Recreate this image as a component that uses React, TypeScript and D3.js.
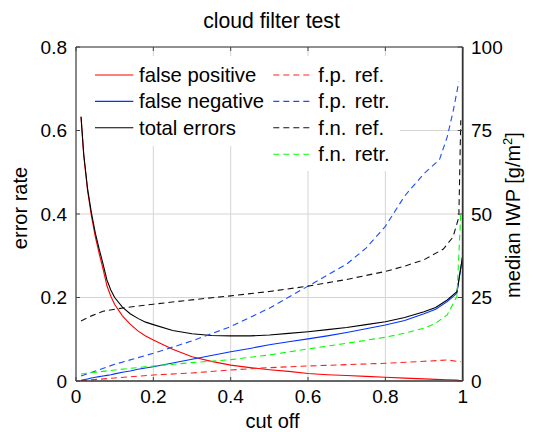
import React from "react";
import * as d3 from "d3";

const W = 533;
const H = 432;

// cut off values for the solid error-rate curves
const cutoff = [0.013, 0.02, 0.03, 0.04, 0.05, 0.06, 0.07, 0.08, 0.09, 0.1, 0.12, 0.14, 0.16, 0.18, 0.2, 0.25, 0.3, 0.35, 0.4, 0.45, 0.5, 0.55, 0.6, 0.65, 0.7, 0.75, 0.8, 0.85, 0.9, 0.93, 0.96, 0.985, 1.0];
const falsePositive = [0.633, 0.54, 0.455, 0.395, 0.345, 0.305, 0.268, 0.228, 0.203, 0.183, 0.156, 0.136, 0.12, 0.108, 0.098, 0.076, 0.058, 0.047, 0.038, 0.032, 0.027, 0.023, 0.018, 0.015, 0.013, 0.011, 0.009, 0.007, 0.005, 0.004, 0.003, 0.002, 0.0];
const falseNegative = [0.0015, 0.003, 0.005, 0.007, 0.009, 0.0105, 0.012, 0.0135, 0.015, 0.017, 0.021, 0.024, 0.028, 0.031, 0.034, 0.043, 0.052, 0.061, 0.07, 0.078, 0.087, 0.094, 0.101, 0.108, 0.116, 0.125, 0.134, 0.145, 0.161, 0.172, 0.19, 0.21, 0.3];
const totalErrors = [0.633, 0.543, 0.46, 0.402, 0.354, 0.316, 0.28, 0.242, 0.218, 0.2, 0.177, 0.161, 0.15, 0.141, 0.135, 0.121, 0.113, 0.109, 0.108, 0.108, 0.11, 0.114, 0.118, 0.123, 0.128, 0.135, 0.142, 0.152, 0.166, 0.176, 0.194, 0.214, 0.3];

// median IWP curves [g/m^2] (right axis)
const fpRefX = [0.013, 0.1, 0.2, 0.3, 0.4, 0.5, 0.6, 0.7, 0.8, 0.9, 0.96, 0.985, 0.995];
const fpRefY = [0.1, 0.9, 1.8, 2.4, 3.3, 4.0, 4.5, 4.9, 5.3, 5.9, 6.3, 5.9, 5.8];
const fpRetrX = [0.013, 0.1, 0.2, 0.3, 0.4, 0.5, 0.6, 0.7, 0.75, 0.8, 0.85, 0.9, 0.94, 0.96, 0.975, 0.99];
const fpRetrY = [1.5, 5.0, 8.3, 12.0, 16.3, 21.8, 28.4, 35.0, 39.8, 46.3, 55.4, 62.1, 66.3, 73.1, 80.6, 89.6];
const fnRefX = [0.013, 0.04, 0.07, 0.1, 0.15, 0.2, 0.3, 0.4, 0.5, 0.6, 0.7, 0.8, 0.85, 0.9, 0.95, 0.975, 0.99, 0.995];
const fnRefY = [18.0, 19.5, 20.9, 21.5, 22.3, 23.0, 24.3, 25.5, 26.8, 28.4, 30.4, 32.8, 34.4, 36.3, 39.5, 43.1, 49.1, 78.1];
const fnRetrX = [0.013, 0.1, 0.2, 0.3, 0.4, 0.5, 0.6, 0.7, 0.8, 0.85, 0.9, 0.93, 0.96, 0.985, 0.995];
const fnRetrY = [2.1, 3.3, 4.5, 5.5, 6.4, 7.8, 9.6, 11.3, 13.1, 14.3, 15.8, 17.3, 19.8, 25.3, 50.0];

const xTicks = [0, 0.2, 0.4, 0.6, 0.8, 1];
const xTickLabels = ["0", "0.2", "0.4", "0.6", "0.8", "1"];
const yLeftTicks = [0, 0.2, 0.4, 0.6, 0.8];
const yLeftTickLabels = ["0", "0.2", "0.4", "0.6", "0.8"];
const yRightTicks = [0, 25, 50, 75, 100];
const yRightTickLabels = ["0", "25", "50", "75", "100"];

const legendCol1 = ["false positive", "false negative", "total errors"];
const legendCol2 = ["f.p. ref.", "f.p. retr.", "f.n. ref.", "f.n. retr."];

const FONT = "'Liberation Sans', Arial, Helvetica, sans-serif";
const FS = 19;
const FS_LEG = 20.3;
const FS_LAB = 20;
const FS_TITLE = 21.2;

export default function App() {
  const L = 76, R = 462.7, T = 47, B = 381;
  const x = d3.scaleLinear().domain([0, 1]).range([L, R]);
  const yL = d3.scaleLinear().domain([0, 0.8]).range([B, T]);
  const yR = d3.scaleLinear().domain([0, 100]).range([B, T]);

  const lineL = d3.line<[number, number]>().x((d) => x(d[0])).y((d) => yL(d[1]));
  const lineR = d3.line<[number, number]>().x((d) => x(d[0])).y((d) => yR(d[1]));
  const zip = (a: number[], b: number[]) => a.map((v, i) => [v, b[i]] as [number, number]);

  const solid = [
    { y: falsePositive, color: "#ff0000" },
    { y: falseNegative, color: "#0033ff" },
    { y: totalErrors, color: "#000000" },
  ];
  const dashed = [
    { x: fpRefX, y: fpRefY, color: "#ff2020" },
    { x: fpRetrX, y: fpRetrY, color: "#1a4dff" },
    { x: fnRefX, y: fnRefY, color: "#111111" },
    { x: fnRetrX, y: fnRetrY, color: "#00ff00" },
  ];
  const dash = "6,4";
  const tickLen = 4;
  const rowY = (i: number) => 75 + 26.4 * i;

  return (
    <svg width={W} height={H} style={{ position: "absolute", left: 0, top: 0, background: "#fff" }} fontFamily={FONT}>
      <rect x={0} y={0} width={W} height={H} fill="#fff" />
      {/* grid */}
      {xTicks.filter((t) => t > 0 && t < 1).map((t) => (
        <line key={"gx" + t} x1={x(t)} x2={x(t)} y1={T} y2={B} stroke="#d4d4d4" strokeWidth={1} />
      ))}
      {yLeftTicks.filter((t) => t > 0 && t < 0.8).map((t) => (
        <line key={"gy" + t} x1={L} x2={R} y1={yL(t)} y2={yL(t)} stroke="#d4d4d4" strokeWidth={1} />
      ))}
      {/* legend backgrounds */}
      <rect x={79} y={56} width={189} height={90} fill="#fff" />
      <rect x={268} y={56} width={132} height={115} fill="#fff" />

      <defs>
        <clipPath id="plotclip">
          <rect x={L} y={T} width={R - L} height={B - T} />
        </clipPath>
      </defs>
      <g clipPath="url(#plotclip)">
        {solid.map((s, i) => (
          <path key={"s" + i} d={lineL(zip(cutoff, s.y)) || ""} fill="none" stroke={s.color} strokeWidth={1.1} />
        ))}
        {dashed.map((s, i) => (
          <path key={"d" + i} d={lineR(zip(s.x, s.y)) || ""} fill="none" stroke={s.color} strokeWidth={1.1} strokeDasharray={dash} />
        ))}
      </g>

      {/* axes box */}
      <line x1={L} x2={R} y1={T} y2={T} stroke="#222" strokeWidth={1} />
      <line x1={L} x2={R} y1={B} y2={B} stroke="#333" strokeWidth={1.5} />
      <line x1={L} x2={L} y1={T} y2={B} stroke="#111" strokeWidth={1} />
      <line x1={R} x2={R} y1={T} y2={B} stroke="#333" strokeWidth={1.8} />

      {/* ticks */}
      {xTicks.map((t) => (
        <g key={"tx" + t}>
          <line x1={x(t)} x2={x(t)} y1={B} y2={B - tickLen} stroke="#444" />
          <line x1={x(t)} x2={x(t)} y1={T} y2={T + tickLen} stroke="#444" />
        </g>
      ))}
      {yLeftTicks.map((t) => (
        <line key={"tyl" + t} x1={L} x2={L + tickLen} y1={yL(t)} y2={yL(t)} stroke="#444" />
      ))}
      {yRightTicks.map((t) => (
        <line key={"tyr" + t} x1={R} x2={R - tickLen - 1} y1={yR(t)} y2={yR(t)} stroke="#444" />
      ))}

      {/* tick labels */}
      {xTicks.map((t, i) => (
        <text key={"lx" + t} x={x(t)} y={403} fontSize={FS} textAnchor="middle" fill="#000">
          {xTickLabels[i]}
        </text>
      ))}
      {yLeftTicks.map((t, i) => (
        <text key={"ll" + t} x={67} y={yL(t) + 6.8} fontSize={FS} textAnchor="end" fill="#000">
          {yLeftTickLabels[i]}
        </text>
      ))}
      {yRightTicks.map((t, i) => (
        <text key={"lr" + t} x={471} y={yR(t) + 6.8} fontSize={FS} textAnchor="start" fill="#000">
          {yRightTickLabels[i]}
        </text>
      ))}

      {/* labels */}
      <text x={271.5} y={28.3} fontSize={FS_TITLE} textAnchor="middle">cloud filter test</text>
      <text x={272.5} y={428} fontSize={FS_LAB} textAnchor="middle">cut off</text>
      <text transform={`translate(27,208) rotate(-90)`} fontSize={FS_LAB} textAnchor="middle">error rate</text>
      <text transform={`translate(520,215) rotate(-90)`} fontSize={FS_LAB} textAnchor="middle">
        median IWP [g/m<tspan fontSize={FS_LAB * 0.65} dy={-8}>2</tspan><tspan dy={8}>]</tspan>
      </text>

      {/* legend */}
      {legendCol1.map((lab, i) => (
        <g key={"lg1" + i}>
          <line x1={95} x2={133.3} y1={rowY(i)} y2={rowY(i)} stroke={solid[i].color} strokeWidth={1.1} />
          <text x={139} y={rowY(i) + 7} fontSize={FS_LEG}>{lab}</text>
        </g>
      ))}
      {legendCol2.map((lab, i) => (
        <g key={"lg2" + i}>
          <line x1={273.3} x2={312.7} y1={rowY(i)} y2={rowY(i)} stroke={dashed[i].color} strokeWidth={1.1} strokeDasharray={dash} />
          <text x={318.3} y={rowY(i) + 7} fontSize={FS_LEG} wordSpacing={2.6}>{lab}</text>
        </g>
      ))}
    </svg>
  );
}
